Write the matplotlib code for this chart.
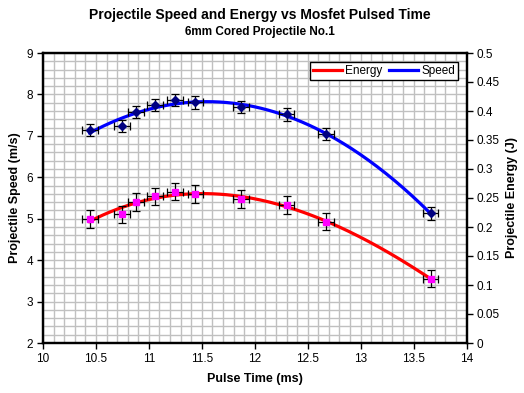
import numpy as np
import matplotlib
matplotlib.use("Agg")
import matplotlib.pyplot as plt
from matplotlib.ticker import MultipleLocator, FuncFormatter

plt.rcParams['font.family'] = ['Liberation Sans', 'DejaVu Sans']

# Data
pulse_time = [10.44, 10.75, 10.88, 11.06, 11.25, 11.44, 11.87, 12.30, 12.67, 13.66]
speed = [7.14, 7.24, 7.57, 7.74, 7.86, 7.81, 7.70, 7.52, 7.04, 5.13]
energy = [0.214, 0.222, 0.243, 0.253, 0.261, 0.257, 0.248, 0.238, 0.209, 0.111]
time_err = 0.075
speed_err = 0.15
energy_err = 0.015

title = "Projectile Speed and Energy vs Mosfet Pulsed Time"
subtitle = "6mm Cored Projectile No.1"

W, H = 524, 393
fig = plt.figure(figsize=(W / 100, H / 100), dpi=100)
L, R, T, B = 43, 466.5, 53, 343
ax = fig.add_axes([L / W, 1 - B / H, (R - L) / W, (B - T) / H])
ax2 = ax.twinx()

ax.set_xlim(10, 14)
ax.set_ylim(2, 9)
ax2.set_ylim(0, 0.5)

# grid
ax.xaxis.set_major_locator(MultipleLocator(0.5))
ax.xaxis.set_minor_locator(MultipleLocator(0.1))
ax.yaxis.set_major_locator(MultipleLocator(1))
ax.yaxis.set_minor_locator(MultipleLocator(0.2))
ax.grid(which='both', color='#c0c0c0', linewidth=1.0)
ax.set_axisbelow(True)
ax.tick_params(which='minor', length=0)
ax.tick_params(which='major', direction='out', length=4, width=1, labelsize=8.5, pad=3)
ax.xaxis.set_major_formatter(FuncFormatter(lambda v, p: f"{v:g}"))
ax2.yaxis.set_major_locator(MultipleLocator(0.05))
ax2.yaxis.set_major_formatter(FuncFormatter(lambda v, p: f"{v:g}"))
ax2.tick_params(which='major', direction='out', length=4, width=1, labelsize=8.5, pad=3)

for a in (ax, ax2):
    for s in a.spines.values():
        s.set_linewidth(1.6)
        s.set_color('black')

# trendlines (polynomial fits of the data)
xs = np.linspace(min(pulse_time), max(pulse_time), 200)
ps = np.polyfit(pulse_time, speed, 3)
pe = np.polyfit(pulse_time, energy, 3)
ax2.plot(xs, np.polyval(pe, xs), color='#ff0000', linewidth=2.3, zorder=2, label='Energy')
ax.plot(xs, np.polyval(ps, xs), color='#0000ff', linewidth=2.3, zorder=2, label='Speed')

# error bars and markers
ax.errorbar(pulse_time, speed, xerr=time_err, yerr=speed_err, fmt='none',
            ecolor='black', elinewidth=0.9, capsize=3, capthick=0.9, zorder=3)
ax.plot(pulse_time, speed, linestyle='none', marker='D', markersize=4.2,
        color='#000080', zorder=4)
ax2.errorbar(pulse_time, energy, xerr=time_err, yerr=energy_err, fmt='none',
             ecolor='black', elinewidth=0.9, capsize=3, capthick=0.9, zorder=3)
ax2.plot(pulse_time, energy, linestyle='none', marker='s', markersize=5,
         color='#ff00ff', zorder=4)

ax.set_xlabel("Pulse Time (ms)", fontsize=9, fontweight='bold', labelpad=6)
ax.set_ylabel("Projectile Speed (m/s)", fontsize=9, fontweight='bold', labelpad=4)
ax2.set_ylabel("Projectile Energy (J)", fontsize=9, fontweight='bold', labelpad=5)

fig.text(259.5 / W, 1 - 15 / H, title, ha='center', va='center', fontsize=10, fontweight='bold')
fig.text(259.5 / W, 1 - 32 / H, subtitle, ha='center', va='center', fontsize=8.5, fontweight='bold')

# legend
h1, l1 = ax2.get_legend_handles_labels()
h2, l2 = ax.get_legend_handles_labels()
leg = ax2.legend(h1 + h2, l1 + l2, ncol=2, loc='upper right',
                 bbox_to_anchor=((458 - L) / (R - L), 1 - (62 - T) / (B - T)),
                 borderaxespad=0, frameon=True, fancybox=False, shadow=False,
                 fontsize=8.5, handlelength=2.4, handletextpad=0.3, columnspacing=0.6,
                 borderpad=0.25)
leg.get_frame().set_edgecolor('black')
leg.get_frame().set_linewidth(1.0)
leg.get_frame().set_facecolor('white')
leg.get_frame().set_alpha(1)
leg.set_zorder(10)

fig.savefig("out.png", dpi=100)
